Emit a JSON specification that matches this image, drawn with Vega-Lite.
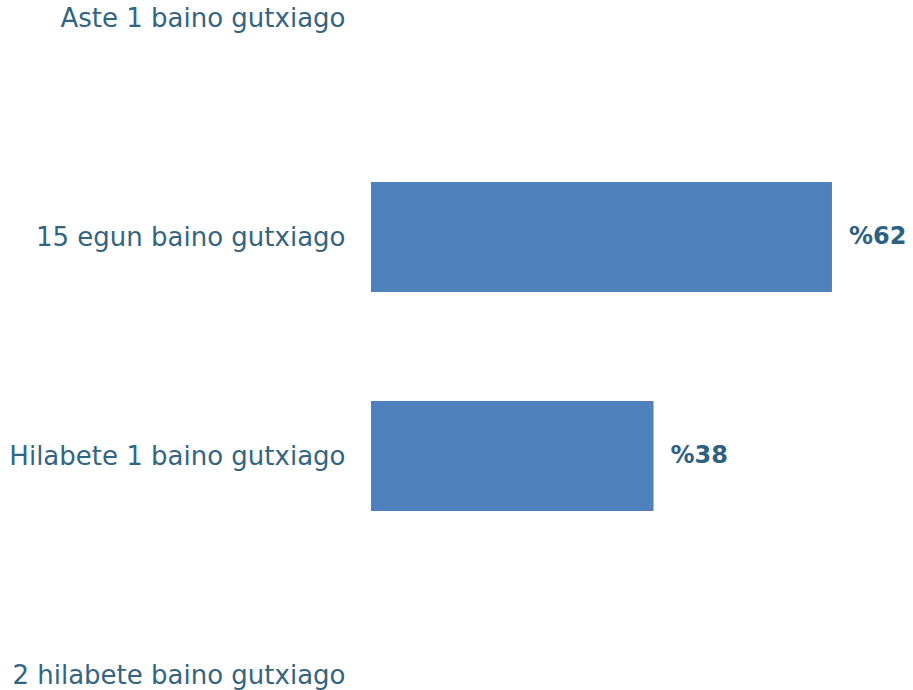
{
  "$schema": "https://vega.github.io/schema/vega-lite/v6.json",
  "width": 542,
  "height": 657,
  "autosize": {"type": "none"},
  "padding": {"left": 371, "top": 18, "right": 0, "bottom": 15},
  "background": "white",
  "data": {"values": [
    {"cat": "Aste 1 baino gutxiago", "value": null, "label": ""},
    {"cat": "15 egun baino gutxiago", "value": 62, "label": "%62"},
    {"cat": "Hilabete 1 baino gutxiago", "value": 38, "label": "%38"},
    {"cat": "2 hilabete baino gutxiago", "value": null, "label": ""}
  ]},
  "encoding": {
    "y": {
      "field": "cat", "type": "nominal", "sort": null,
      "scale": {"type": "point", "padding": 0, "domain": ["Aste 1 baino gutxiago", "15 egun baino gutxiago", "Hilabete 1 baino gutxiago", "2 hilabete baino gutxiago"]},
      "axis": {"title": null, "ticks": false, "tickSize": 0, "domain": false, "labelPadding": 26,
        "labelFont": "DejaVu Sans", "labelFontSize": 26, "labelColor": "#336580", "labelLimit": 500, "grid": false}
    },
    "x": {
      "field": "value", "type": "quantitative",
      "scale": {"domain": [0, 72.9], "nice": false},
      "axis": null
    }
  },
  "layer": [
    {"mark": {"type": "bar", "size": 110, "color": "#4F81BD"}},
    {"mark": {"type": "text", "align": "left", "dx": 17, "font": "DejaVu Sans", "fontSize": 24, "fontWeight": "bold", "color": "#2E6180"},
     "encoding": {"text": {"field": "label"}}}
  ],
  "config": {"view": {"stroke": null}}
}
